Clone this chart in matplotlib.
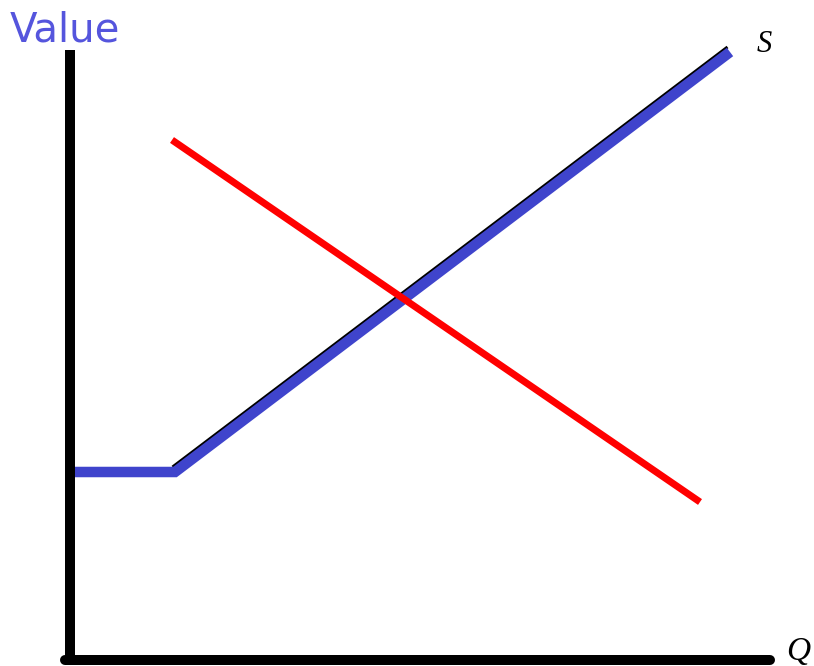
import matplotlib
matplotlib.use("Agg")
import matplotlib.pyplot as plt
import numpy as np

# Data (units: axis space, origin at intersection of axes)
supply_q = [5, 105, 660]
supply_v = [188, 188, 608]
demand_q = [102, 630]
demand_v = [520, 158]

W, H = 814, 666
fig = plt.figure(figsize=(W / 100, H / 100), dpi=100)
ox, oy = 70, 660          # pixel of origin
xmax, ymax = 700, 610
ax = fig.add_axes([ox / W, (H - oy) / H, xmax / W, ymax / H])
ax.set_xlim(0, xmax)
ax.set_ylim(0, ymax)
ax.axis("off")

px = 72 / 100  # points per pixel

# axes lines
ax.plot([0, 0], [0, ymax], color="black", lw=10 * px, solid_capstyle="butt", clip_on=False, zorder=5)
ax.plot([-5, xmax], [0, 0], color="black", lw=10 * px, solid_capstyle="round", clip_on=False, zorder=5)

blue = "#3f44cc"
# thin black line edge along diagonal of supply
ax.plot(np.array(supply_q[1:]) - 2.5, np.array(supply_v[1:]) + 5, color="black", lw=3 * px,
        solid_capstyle="butt", zorder=2, clip_on=False)
ax.plot(supply_q, supply_v, color=blue, lw=10.5 * px, solid_capstyle="butt",
        solid_joinstyle="miter", zorder=3, clip_on=False)
ax.plot(demand_q, demand_v, color="#ff0000", lw=7 * px, solid_capstyle="butt", zorder=4, clip_on=False)

fig.text(10 / W, 1 - 42 / H, "Value", color="#5555dd", fontsize=29, family="DejaVu Sans",
         ha="left", va="baseline")
fig.text(757 / W, 1 - 52 / H, "S", fontsize=22, family="Liberation Serif", style="italic",
         ha="left", va="baseline")
fig.text(786 / W, 1 - 660 / H, "Q", fontsize=24, family="Liberation Serif", style="italic",
         ha="left", va="baseline")

fig.savefig("out.png", dpi=100, facecolor="white")
